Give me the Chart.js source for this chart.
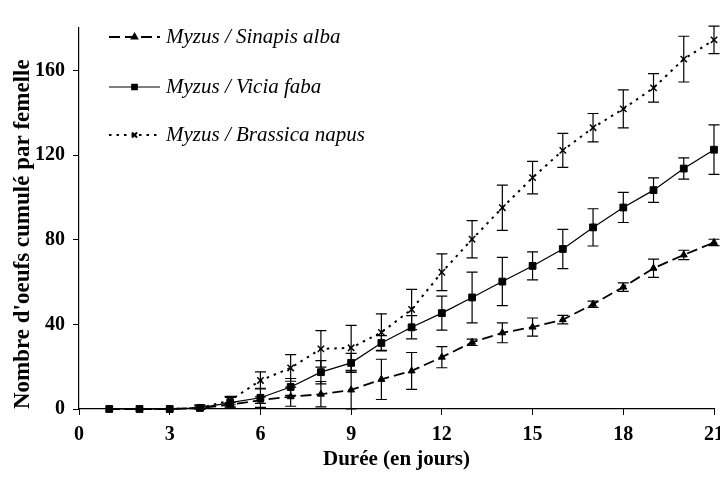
<!DOCTYPE html>
<html>
<head>
<meta charset="utf-8">
<script src="https://cdn.jsdelivr.net/npm/chart.js@4"></script>
<style>
    html, body { margin: 0; padding: 0; background: #fff; overflow: hidden; }
    #wrap { width: 720px; height: 477px; position: relative; }
</style>
</head>
<body>
<div id="wrap"><canvas id="myChart"></canvas></div>
<script>
const days = [1, 2, 3, 4, 5, 6, 7, 8, 9, 10, 11, 12, 13, 14, 15, 16, 17, 18, 19, 20, 21];

const sinapis = [0, 0, 0, 0.5, 2, 4.2, 5.8, 7, 9, 14, 18, 24.5, 31.5, 36, 38.7, 42.2, 49.5, 57.6, 66.5, 72.8, 78.7];
const sinapisErr = [0, 0, 0, 1, 1, 1.5, 4.5, 6, 9, 9.5, 8.7, 5, 1.5, 4.7, 4.3, 2, 1.5, 2, 4.3, 2.2, 1.5];

const vicia = [0, 0, 0, 0.5, 3, 5.3, 10.4, 17.4, 21.8, 31.2, 38.6, 45.3, 52.7, 60.2, 67.6, 75.6, 85.8, 95.2, 103.4, 113.6, 122.5];
const viciaErr = [0, 0, 0, 1.5, 2.5, 4.5, 4, 5.5, 4.5, 3.5, 5.5, 8, 12, 11.4, 6.6, 9.3, 8.8, 7.1, 5.8, 5, 11.7];

const brassica = [0, 0, 0, 0.5, 4, 13.5, 19.4, 28.4, 28.9, 36.2, 47, 64.6, 80.2, 95.1, 109.3, 122.2, 132.9, 141.8, 151.7, 165.3, 174.4];
const brassicaErr = [0, 0, 0, 1, 2, 4, 6.3, 8.6, 10.6, 8.7, 9.5, 8.7, 8.8, 10.7, 7.7, 8, 6.7, 9, 6.7, 10.8, 6.5];

const seriesNames = ['Myzus / Sinapis alba', 'Myzus / Vicia faba', 'Myzus / Brassica napus'];

const FONT = "'Liberation Serif', 'Times New Roman', serif";

function points(values) {
    return days.map((d, i) => ({ x: d, y: values[i] }));
}

// vertical error bars with caps, drawn from each dataset's errors array
const errorBars = {
    id: 'errorBars',
    afterDatasetsDraw(chart) {
        const c = chart.ctx;
        const xs = chart.scales.x;
        const ys = chart.scales.y;
        c.save();
        c.strokeStyle = '#000';
        c.lineWidth = 1.2;
        c.setLineDash([]);
        chart.data.datasets.forEach(ds => {
            ds.data.forEach((p, i) => {
                const e = ds.errors[i];
                if (!e) return;
                const x = xs.getPixelForValue(p.x);
                const y1 = ys.getPixelForValue(p.y + e);
                const y2 = ys.getPixelForValue(Math.max(p.y - e, 0));
                c.beginPath();
                c.moveTo(x, y1); c.lineTo(x, y2);
                c.moveTo(x - 5.5, y1); c.lineTo(x + 5.5, y1);
                c.moveTo(x - 5.5, y2); c.lineTo(x + 5.5, y2);
                c.stroke();
            });
        });
        c.restore();
    }
};

// legend drawn inside the plot, top-left, with line samples
const insideLegend = {
    id: 'insideLegend',
    afterDraw(chart, args, opts) {
        const c = chart.ctx;
        c.save();
        chart.data.datasets.forEach((ds, i) => {
            const y = opts.rows[i];
            c.strokeStyle = '#000';
            c.lineWidth = ds.borderWidth;
            c.setLineDash(ds.borderDash || []);
            c.beginPath();
            c.moveTo(opts.x0, y);
            c.lineTo(opts.x1, y);
            c.stroke();
            c.setLineDash([]);
            Chart.helpers.drawPoint(c, {
                pointStyle: ds.pointStyle,
                radius: ds.pointRadius * 0.8,
                borderWidth: 1.5
            }, (opts.x0 + opts.x1) / 2, y);
            c.fillStyle = '#000';
            c.font = 'italic 21px ' + FONT;
            c.textBaseline = 'middle';
            c.textAlign = 'left';
            c.fillText(ds.label, opts.textX, y);
        });
        c.restore();
    }
};

const ctx = document.getElementById('myChart');

new Chart(ctx, {
    type: 'line',
    data: {
        datasets: [{
            label: seriesNames[0],
            data: points(sinapis),
            errors: sinapisErr,
            borderColor: '#000',
            backgroundColor: '#000',
            borderWidth: 1.8,
            borderDash: [11, 5],
            pointStyle: 'triangle',
            pointRadius: 4,
            pointBorderWidth: 1,
            clip: false
        }, {
            label: seriesNames[1],
            data: points(vicia),
            errors: viciaErr,
            borderColor: '#000',
            backgroundColor: '#000',
            borderWidth: 1.2,
            pointStyle: 'rect',
            pointRadius: 4.8,
            pointBorderWidth: 1,
            clip: false
        }, {
            label: seriesNames[2],
            data: points(brassica),
            errors: brassicaErr,
            borderColor: '#000',
            backgroundColor: '#000',
            borderWidth: 2,
            borderDash: [2.5, 5],
            pointStyle: 'crossRot',
            pointRadius: 4.5,
            pointBorderWidth: 1.5,
            clip: false
        }]
    },
    options: {
        responsive: true,
        maintainAspectRatio: false,
        animation: false,
        layout: {
            padding: { top: 28, right: 4, left: 0, bottom: 0 }
        },
        plugins: {
            legend: { display: false },
            tooltip: { enabled: false },
            insideLegend: { x0: 109, x1: 160, textX: 166, rows: [37, 87, 135] }
        },
        scales: {
            x: {
                type: 'linear',
                min: 0,
                max: 21,
                afterFit(scale) {
                    scale.height = 68;
                    scale.paddingRight = 0;
                },
                border: { color: '#000', width: 1.2 },
                grid: { drawOnChartArea: false, color: '#000', tickLength: 6 },
                ticks: {
                    stepSize: 3,
                    color: '#000',
                    padding: 8,
                    maxRotation: 0,
                    font: { family: FONT, size: 20, weight: 'bold' }
                },
                title: {
                    display: true,
                    text: 'Durée (en jours)',
                    color: '#000',
                    padding: { top: 0, bottom: 5 },
                    font: { family: FONT, size: 21, weight: 'bold', lineHeight: 1.2 }
                }
            },
            y: {
                min: 0,
                max: 180,
                afterFit(scale) {
                    scale.width = 79;
                },
                border: { color: '#000', width: 1.2 },
                grid: { drawOnChartArea: false, color: '#000', tickLength: 6 },
                ticks: {
                    stepSize: 40,
                    includeBounds: false,
                    color: '#000',
                    padding: 8,
                    font: { family: FONT, size: 20, weight: 'bold' }
                },
                title: {
                    display: true,
                    text: "Nombre d'oeufs cumulé par femelle",
                    align: 'start',
                    color: '#000',
                    padding: { top: 9, bottom: 0 },
                    font: { family: FONT, size: 23, weight: 'bold', lineHeight: 1.2 }
                }
            }
        }
    },
    plugins: [errorBars, insideLegend]
});
</script>
</body>
</html>
